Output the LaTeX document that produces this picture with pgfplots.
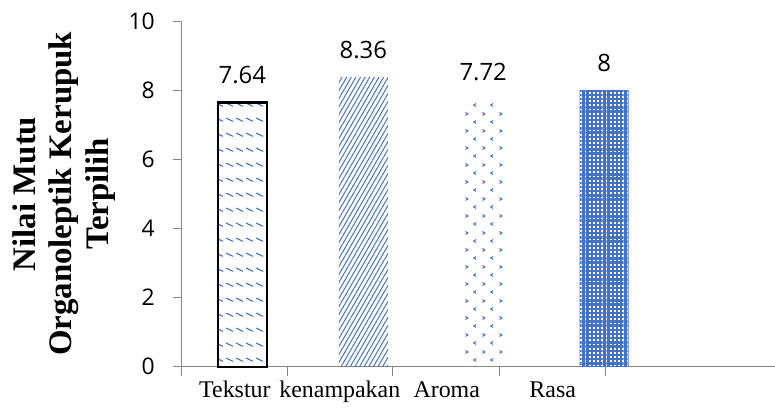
\documentclass[border=0pt]{standalone}
\usepackage{fontspec}
\usepackage{pgfplots}
\pgfplotsset{compat=1.18}
\usetikzlibrary{patterns,patterns.meta}
\setmainfont{Liberation Serif}
\newfontfamily\numfont{Open Sans}
\definecolor{barblue}{HTML}{4472C4}
\definecolor{axisgray}{HTML}{868686}

% rows of short slanted dashes
\pgfdeclarepattern{
  name=dashrows, type=uncolored,
  bottom left={\pgfpoint{0bp}{0bp}},
  top right={\pgfpoint{9.8bp}{15bp}},
  tile size={\pgfpoint{9.8bp}{15bp}},
  code={
    \pgfsetlinewidth{1.1bp}
    \pgfpathmoveto{\pgfpoint{1.2bp}{11bp}}
    \pgfpathlineto{\pgfpoint{8.2bp}{7.6bp}}
    \pgfusepath{stroke}
  }}

% sparse staggered little chevrons
\pgfdeclarepattern{
  name=chevrons, type=uncolored,
  bottom left={\pgfpoint{0bp}{0bp}},
  top right={\pgfpoint{16.6bp}{16.6bp}},
  tile size={\pgfpoint{16.6bp}{16.6bp}},
  code={
    \pgfsetlinewidth{1bp}
    \pgfpathmoveto{\pgfpoint{1.5bp}{13.8bp}}\pgfpathlineto{\pgfpoint{4bp}{12.3bp}}\pgfpathlineto{\pgfpoint{1.5bp}{10.8bp}}
    \pgfpathmoveto{\pgfpoint{12.3bp}{5.6bp}}\pgfpathlineto{\pgfpoint{9.8bp}{4.1bp}}\pgfpathlineto{\pgfpoint{12.3bp}{2.6bp}}
    \pgfusepath{stroke}
  }}

\begin{document}
\begin{tikzpicture}
\begin{axis}[
  scale only axis, width=593bp, height=346bp,
  xmin=182, xmax=775, ymin=0, ymax=10,
  axis lines*=left,
  axis line style={axisgray, line width=0.9bp},
  ytick={0,2,...,10},
  xtick={235,340,447,553},
  xticklabels={Tekstur, kenampakan, Aroma, Rasa},
  minor xtick={182,288,393,500,606},
  minor ytick={0,2,...,10},
  major tick length=0pt,
  minor tick length=9bp,
  tick align=outside,
  tick style={axisgray, line width=0.9bp},
  /pgf/number format/assume math mode=true,
  xticklabel style={font=\fontsize{24}{28}\selectfont, anchor=base, yshift=-31bp, inner sep=0pt},
  yticklabel style={font=\numfont\fontsize{23}{27}\selectfont, anchor=east, xshift=-27bp, inner sep=0pt},
  ylabel={Nilai Mutu\\Organoleptik Kerupuk\\Terpilih},
  every axis y label/.style={at={(rel axis cs:0,0.5)}, xshift=-118bp, rotate=90, anchor=center,
    align=center, font=\bfseries\fontsize{33}{36.5}\selectfont, inner sep=0pt},
  every node near coord/.append style={font=\numfont\fontsize{24}{28}\selectfont, anchor=base,
    yshift=19bp, inner sep=0pt, text=black},
  nodes near coords,
  clip=false,
]
\coordinate (sw) at (rel axis cs:0,0);
% Tekstur
\addplot[ybar, bar width=49, bar shift=0pt, draw=black, line width=2.2bp,
  pattern=dashrows, pattern color=barblue] coordinates {(242.5,7.64)};
% kenampakan
\addplot[ybar, bar width=49, bar shift=0pt, draw=none,
  pattern={Lines[angle=60, distance=4bp, line width=1bp]}, pattern color=barblue]
  coordinates {(363.5,8.36)};
% Aroma
\addplot[ybar, bar width=46, bar shift=0pt, draw=none,
  pattern=chevrons, pattern color=barblue] coordinates {(483.5,7.72)};
% Rasa
\addplot[ybar, bar width=49, bar shift=0pt, draw=none,
  pattern={Hatch[angle=0, distance=4.2bp, line width=2.4bp]}, pattern color=barblue]
  coordinates {(604.5,8)};
\end{axis}
\path ([xshift=-182bp,yshift=-47bp]sw) rectangle ([xshift=593bp,yshift=367bp]sw);
\end{tikzpicture}
\end{document}
